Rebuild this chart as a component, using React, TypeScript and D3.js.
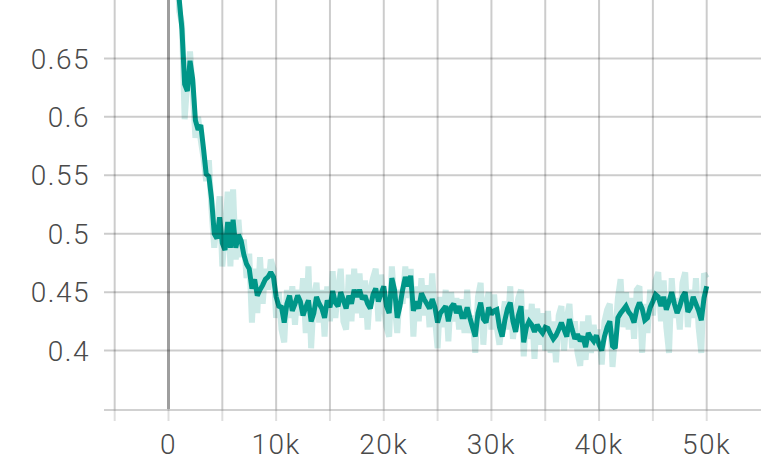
import React from "react";
import * as d3 from "d3";

const STEPS = [
  250, 500, 750, 1000, 1250, 1500, 1750, 2000, 2250, 2500, 2750, 3000, 3250, 3500, 3750, 4000, 4250, 4500, 4750, 5000,
  5250, 5500, 5750, 6000, 6250, 6500, 6750, 7000, 7250, 7500, 7750, 8000, 8250, 8500, 8750, 9000, 9250, 9500, 9750, 10000,
  10250, 10500, 10750, 11000, 11250, 11500, 11750, 12000, 12250, 12500, 12750, 13000, 13250, 13500, 13750, 14000, 14250, 14500, 14750, 15000,
  15250, 15500, 15750, 16000, 16250, 16500, 16750, 17000, 17250, 17500, 17750, 18000, 18250, 18500, 18750, 19000, 19250, 19500, 19750, 20000,
  20250, 20500, 20750, 21000, 21250, 21500, 21750, 22000, 22250, 22500, 22750, 23000, 23250, 23500, 23750, 24000, 24250, 24500, 24750, 25000,
  25250, 25500, 25750, 26000, 26250, 26500, 26750, 27000, 27250, 27500, 27750, 28000, 28250, 28500, 28750, 29000, 29250, 29500, 29750, 30000,
  30250, 30500, 30750, 31000, 31250, 31500, 31750, 32000, 32250, 32500, 32750, 33000, 33250, 33500, 33750, 34000, 34250, 34500, 34750, 35000,
  35250, 35500, 35750, 36000, 36250, 36500, 36750, 37000, 37250, 37500, 37750, 38000, 38250, 38500, 38750, 39000, 39250, 39500, 39750, 40000,
  40250, 40500, 40750, 41000, 41250, 41500, 41750, 42000, 42250, 42500, 42750, 43000, 43250, 43500, 43750, 44000, 44250, 44500, 44750, 45000,
  45250, 45500, 45750, 46000, 46250, 46500, 46750, 47000, 47250, 47500, 47750, 48000, 48250, 48500, 48750, 49000, 49250, 49500, 49750, 50000,
];

const SMOOTHED = [
  0.85, 0.8, 0.74, 0.7, 0.675, 0.628, 0.622, 0.648, 0.632, 0.597, 0.589, 0.593, 0.573, 0.551, 0.549, 0.53, 0.5, 0.496, 0.514, 0.492,
  0.486, 0.51, 0.488, 0.512, 0.488, 0.499, 0.494, 0.482, 0.474, 0.47, 0.453, 0.461, 0.447, 0.452, 0.456, 0.461, 0.463, 0.467, 0.463, 0.446,
  0.438, 0.437, 0.424, 0.44, 0.447, 0.434, 0.44, 0.447, 0.442, 0.43, 0.437, 0.443, 0.425, 0.432, 0.446, 0.44, 0.436, 0.428, 0.443, 0.437,
  0.451, 0.441, 0.438, 0.45, 0.443, 0.436, 0.447, 0.44, 0.452, 0.446, 0.452, 0.444, 0.447, 0.44, 0.436, 0.448, 0.453, 0.442, 0.449, 0.455,
  0.438, 0.432, 0.462, 0.452, 0.428, 0.438, 0.452, 0.463, 0.455, 0.464, 0.434, 0.442, 0.436, 0.449, 0.444, 0.44, 0.436, 0.444, 0.437, 0.424,
  0.432, 0.435, 0.438, 0.425, 0.437, 0.44, 0.432, 0.438, 0.429, 0.429, 0.437, 0.428, 0.42, 0.412, 0.432, 0.441, 0.427, 0.424, 0.437, 0.431,
  0.434, 0.435, 0.42, 0.412, 0.426, 0.436, 0.441, 0.425, 0.416, 0.43, 0.438, 0.407, 0.42, 0.425, 0.422, 0.416, 0.422, 0.418, 0.415, 0.42,
  0.419, 0.414, 0.41, 0.413, 0.418, 0.424, 0.418, 0.412, 0.427, 0.418, 0.41, 0.414, 0.408, 0.412, 0.403, 0.415, 0.411, 0.408, 0.413, 0.405,
  0.4, 0.412, 0.42, 0.425, 0.404, 0.402, 0.428, 0.432, 0.435, 0.438, 0.433, 0.43, 0.424, 0.435, 0.441, 0.436, 0.426, 0.428, 0.437, 0.442,
  0.448, 0.446, 0.438, 0.446, 0.435, 0.442, 0.45, 0.44, 0.432, 0.438, 0.446, 0.45, 0.433, 0.437, 0.446, 0.44, 0.434, 0.426, 0.445, 0.455,
];

const RAW = [
  0.86, 0.79, 0.75, 0.69, 0.68, 0.598, 0.63, 0.656, 0.622, 0.582, 0.6, 0.58, 0.565, 0.545, 0.563, 0.52, 0.488, 0.51, 0.532, 0.472,
  0.5, 0.536, 0.472, 0.538, 0.478, 0.512, 0.48, 0.495, 0.462, 0.483, 0.424, 0.47, 0.432, 0.48, 0.44, 0.47, 0.452, 0.478, 0.47, 0.428,
  0.45, 0.418, 0.407, 0.452, 0.428, 0.455, 0.422, 0.452, 0.43, 0.462, 0.415, 0.472, 0.402, 0.446, 0.458, 0.424, 0.452, 0.412, 0.455, 0.425,
  0.468, 0.428, 0.452, 0.47, 0.425, 0.418, 0.465, 0.425, 0.47, 0.432, 0.466, 0.428, 0.46, 0.418, 0.452, 0.462, 0.47, 0.425, 0.465, 0.44,
  0.42, 0.412, 0.472, 0.44, 0.415, 0.452, 0.44, 0.472, 0.445, 0.47, 0.412, 0.455, 0.425, 0.462, 0.43, 0.456, 0.42, 0.466, 0.428, 0.402,
  0.446, 0.42, 0.452, 0.408, 0.45, 0.425, 0.445, 0.418, 0.444, 0.415, 0.452, 0.415, 0.43, 0.398, 0.446, 0.458, 0.405, 0.44, 0.45, 0.418,
  0.448, 0.42, 0.405, 0.425, 0.442, 0.418, 0.455, 0.41, 0.43, 0.445, 0.452, 0.395, 0.435, 0.41, 0.44, 0.393, 0.436, 0.405, 0.432, 0.4,
  0.434, 0.398, 0.425, 0.39, 0.43, 0.438, 0.4, 0.428, 0.44, 0.402, 0.425, 0.398, 0.387, 0.425, 0.392, 0.43, 0.398, 0.422, 0.4, 0.418,
  0.388, 0.425, 0.435, 0.44, 0.386, 0.415, 0.445, 0.461, 0.42, 0.45, 0.418, 0.445, 0.41, 0.452, 0.455, 0.398, 0.44, 0.415, 0.452, 0.43,
  0.46, 0.467, 0.425, 0.46, 0.42, 0.398, 0.462, 0.428, 0.445, 0.418, 0.458, 0.467, 0.42, 0.452, 0.428, 0.462, 0.42, 0.398, 0.466, 0.462,
];

const X_GRID = [-5000, 5000, 10000, 15000, 20000, 25000, 30000, 35000, 40000, 45000, 50000];
const X_LABELS = [0, 10000, 20000, 30000, 40000, 50000];
const Y_TICKS = [0.4, 0.45, 0.5, 0.55, 0.6, 0.65];

const W = 761;
const H = 461;
const PLOT_LEFT = 104;
const PLOT_RIGHT = 761;
const PLOT_BOTTOM = 409;
const TICK_BOTTOM = 421;

export default function App() {
  const x = d3.scaleLinear().domain([0, 50000]).range([168.5, 706.7]);
  const y = d3.scaleLinear().domain([0.35, 0.7]).range([PLOT_BOTTOM, 0]);

  const line = d3
    .line<number>()
    .x((_, i) => x(STEPS[i]))
    .y((d) => y(d));

  const fmtX = (v: number) => (v === 0 ? "0" : `${v / 1000}k`);
  const fmtY = (v: number) => `${+v.toFixed(2)}`;

  const font = "Roboto, 'Noto Sans', sans-serif";

  return (
    <svg
      width={W}
      height={H}
      style={{ position: "fixed", left: 0, top: 0, background: "#fff" }}
    >
      <defs>
        <clipPath id="plotclip">
          <rect x={PLOT_LEFT} y={0} width={PLOT_RIGHT - PLOT_LEFT} height={PLOT_BOTTOM} />
        </clipPath>
      </defs>
      <g clipPath="url(#plotclip)">
        <path
          d={line(RAW) || ""}
          fill="none"
          stroke="#009688"
          strokeOpacity={0.2}
          strokeWidth={6}
          strokeLinejoin="miter"
          strokeMiterlimit={2}
        />
        <path
          d={line(SMOOTHED) || ""}
          fill="none"
          stroke="#009688"
          strokeWidth={5}
          strokeLinejoin="miter"
          strokeMiterlimit={2}
        />
      </g>
      {Y_TICKS.map((t) => (
        <line
          key={`hy${t}`}
          x1={PLOT_LEFT}
          x2={PLOT_RIGHT}
          y1={y(t)}
          y2={y(t)}
          stroke="rgba(0,0,0,0.2)"
          strokeWidth={2}
        />
      ))}
      {X_GRID.map((t) => (
        <g key={`vx${t}`}>
          <line x1={x(t)} x2={x(t)} y1={0} y2={PLOT_BOTTOM} stroke="rgba(0,0,0,0.2)" strokeWidth={2} />
          <line x1={x(t)} x2={x(t)} y1={PLOT_BOTTOM} y2={TICK_BOTTOM} stroke="rgba(0,0,0,0.13)" strokeWidth={2} />
        </g>
      ))}
      <line x1={x(0)} x2={x(0)} y1={0} y2={PLOT_BOTTOM} stroke="rgba(0,0,0,0.38)" strokeWidth={3} />
      <line x1={x(0)} x2={x(0)} y1={PLOT_BOTTOM} y2={TICK_BOTTOM} stroke="rgba(0,0,0,0.13)" strokeWidth={2} />
      <line
        x1={PLOT_LEFT}
        x2={PLOT_RIGHT}
        y1={PLOT_BOTTOM + 1}
        y2={PLOT_BOTTOM + 1}
        stroke="rgba(0,0,0,0.18)"
        strokeWidth={2}
      />
      {Y_TICKS.map((t) => (
        <text
          key={`ly${t}`}
          x={90}
          y={y(t)}
          dy="0.36em"
          textAnchor="end"
          fontFamily={font}
          fontWeight={300}
          fontSize={28}
          letterSpacing={1.5}
          fill="#4a4a4a"
        >
          {fmtY(t)}
        </text>
      ))}
      {X_LABELS.map((t) => (
        <text
          key={`lx${t}`}
          x={x(t)}
          y={454}
          textAnchor="middle"
          fontFamily={font}
          fontWeight={300}
          fontSize={28}
          letterSpacing={1.5}
          fill="#4a4a4a"
        >
          {fmtX(t)}
        </text>
      ))}
    </svg>
  );
}
